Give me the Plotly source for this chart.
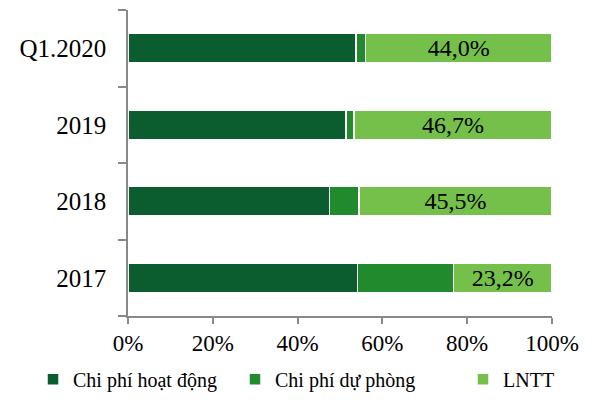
import plotly.graph_objects as go

categories = ["2017", "2018", "2019", "Q1.2020"]
chi_phi_hoat_dong = [54.1, 47.5, 51.4, 53.8]
chi_phi_du_phong = [22.7, 7.0, 1.9, 2.2]
lntt = [23.2, 45.5, 46.7, 44.0]
lntt_labels = ["23,2%", "45,5%", "46,7%", "44,0%"]
x_ticks = [0, 20, 40, 60, 80, 100]
x_tick_labels = ["0%", "20%", "40%", "60%", "80%", "100%"]

FONT = "Liberation Serif, Times New Roman, serif"
colors = ["#0b5c2f", "#218a2d", "#74c04a"]

PLOT_L, PLOT_R = 128, 552
def px_to_paper(px):
    return (px - PLOT_L) / (PLOT_R - PLOT_L)

fig = go.Figure()
fig.add_bar(y=categories, x=chi_phi_hoat_dong, orientation="h", name="Chi phí hoạt động",
            marker=dict(color=colors[0], line=dict(color="white", width=1.5)), legend="legend")
fig.add_bar(y=categories, x=chi_phi_du_phong, orientation="h", name="Chi phí dự phòng",
            marker=dict(color=colors[1], line=dict(color="white", width=1.5)), legend="legend2")
fig.add_bar(y=categories, x=lntt, orientation="h", name="LNTT",
            marker=dict(color=colors[2], line=dict(color="white", width=1.5)), legend="legend3",
            text=lntt_labels, textposition="inside", insidetextanchor="middle",
            constraintext="none",
            textfont=dict(family=FONT, size=24, color="black"), textangle=0)

leg_common = dict(orientation="h", yref="container", y=0.052, yanchor="middle", xanchor="left",
                  font=dict(family=FONT, size=20, color="black"), bgcolor="rgba(0,0,0,0)")
fig.update_layout(
    barmode="stack", bargap=0.62,
    width=600, height=400,
    margin=dict(l=128, r=48, t=10, b=84, autoexpand=False),
    plot_bgcolor="white", paper_bgcolor="white",
    font=dict(family=FONT, color="black"),
    legend=dict(x=px_to_paper(75 - 42), **leg_common),
    legend2=dict(x=px_to_paper(277 - 42), **leg_common),
    legend3=dict(x=px_to_paper(505 - 42), **leg_common),
    showlegend=True,
)
fig.update_xaxes(range=[0, 100], tickvals=x_ticks, ticktext=x_tick_labels,
                 showgrid=False, zeroline=False, showline=True, linecolor="#898989", linewidth=1.5,
                 ticks="outside", ticklen=6, tickcolor="#898989", tickwidth=1.5,
                 tickfont=dict(family=FONT, size=23, color="black"), ticklabelstandoff=0)
fig.update_yaxes(showgrid=False, zeroline=False, showline=True, linecolor="#898989", linewidth=1.5,
                 ticks="outside", tickson="boundaries", ticklen=8, tickcolor="#898989", tickwidth=1.5,
                 tickfont=dict(family=FONT, size=25, color="black"), ticklabelstandoff=15)

fig.write_html("out.html")
